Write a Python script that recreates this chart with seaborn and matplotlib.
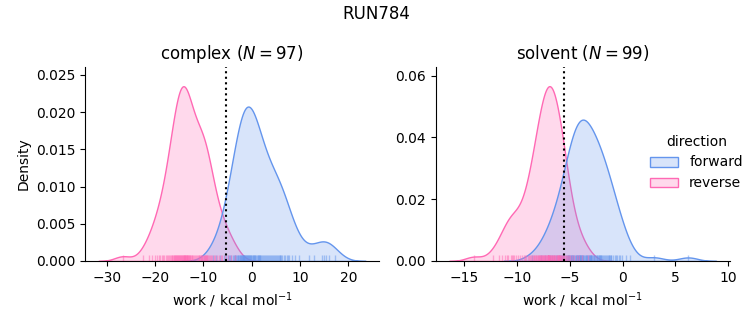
import matplotlib
matplotlib.use("Agg")
import matplotlib.pyplot as plt
import seaborn as sns
import pandas as pd

run_name = "RUN784"
phases = ["complex", "solvent"]
n_samples = {"complex": 97, "solvent": 99}
dg_estimate = {"complex": -5.4, "solvent": -5.5}

complex_forward = [
    -8.1,
    -7.3, -6.6,
    -5.7, -5.3, -5.0, -4.7, -4.4, -4.2,
    -3.9, -3.7, -3.5, -3.4, -3.2, -3.1, -2.9, -2.8, -2.7, -2.5, -2.4, -2.3, -2.2, -2.1,
    -1.95, -1.9, -1.8, -1.7, -1.65, -1.6, -1.5, -1.4, -1.3, -1.2, -1.1, -1.0, -0.9, -0.8,
    -0.7, -0.6, -0.5, -0.45, -0.35, -0.2, -0.1,
    0.1, 0.2, 0.3, 0.4, 0.5, 0.6, 0.7, 0.9, 1.0, 1.2, 1.3, 1.5, 1.6, 1.7, 1.8, 1.9,
    2.1, 2.3, 2.5, 2.7, 2.9, 3.1, 3.3, 3.5, 3.7, 3.9,
    4.2, 4.5, 4.7, 4.9, 5.1, 5.3, 5.5, 5.7, 5.8, 5.95,
    6.1, 6.3, 6.6, 6.9, 7.2, 7.5, 7.8,
    8.4, 9.0, 9.7,
    11.8, 12.9,
    14.6, 15.0, 15.4, 15.9,
    17.2,
]

complex_reverse = [
    -26.7,
    -22.4,
    -21.2, -20.6, -20.1,
    -19.6, -19.2, -18.9, -18.6, -18.3, -18.1,
    -17.8, -17.5, -17.3, -17.1, -16.9, -16.7, -16.5, -16.4, -16.2, -16.1, -16.0,
    -15.9, -15.8, -15.7, -15.6, -15.5, -15.4, -15.3, -15.2, -15.1, -15.0,
    -14.9, -14.8, -14.7, -14.6, -14.5, -14.4, -14.3, -14.2, -14.1, -14.05,
    -13.95, -13.9, -13.8, -13.7, -13.6, -13.5, -13.45, -13.4, -13.3, -13.2, -13.1,
    -13.0, -12.9, -12.8, -12.7, -12.6, -12.4, -12.3, -12.1,
    -11.9, -11.7, -11.5, -11.3, -11.1, -11.0, -10.9, -10.7, -10.5, -10.4, -10.3, -10.2, -10.1,
    -9.95, -9.85, -9.7, -9.6, -9.5, -9.4, -9.3, -9.2, -9.1, -8.9, -8.7, -8.5, -8.2,
    -7.9, -7.5, -7.1, -6.8, -6.4, -6.1,
    -5.6, -4.9, -4.3,
    -3.4,
]

solvent_forward = [
    -8.6,
    -7.7, -7.3, -7.1,
    -6.9, -6.7, -6.5, -6.3, -6.2, -6.05,
    -5.9, -5.8, -5.7, -5.6, -5.5, -5.4, -5.3, -5.2, -5.15, -5.1, -5.05,
    -4.97, -4.9, -4.85, -4.8, -4.75, -4.7, -4.65, -4.6, -4.5, -4.45, -4.4, -4.35, -4.3,
    -4.25, -4.2, -4.15, -4.1, -4.05, -4.02, -4.0,
    -3.95, -3.9, -3.85, -3.8, -3.75, -3.7, -3.65, -3.6, -3.5, -3.45, -3.4, -3.35, -3.3,
    -3.2, -3.15, -3.1, -3.05, -3.02, -3.0,
    -2.95, -2.9, -2.8, -2.75, -2.7, -2.6, -2.5, -2.45, -2.4, -2.3, -2.25, -2.2, -2.15,
    -2.1, -2.05, -2.0,
    -1.95, -1.85, -1.75, -1.7, -1.6, -1.5, -1.4, -1.3, -1.25, -1.2, -1.1, -1.05,
    -0.9, -0.75, -0.6, -0.5, -0.35, -0.2, -0.1,
    0.3, 0.7,
    3.0, 6.2,
]

solvent_reverse = [
    -14.1,
    -12.3,
    -11.7, -11.4, -11.1,
    -10.9, -10.8, -10.6, -10.5, -10.4, -10.3, -10.1,
    -9.9, -9.7, -9.5, -9.3, -9.2, -9.1,
    -8.95, -8.9, -8.8, -8.7, -8.6, -8.5, -8.4, -8.35, -8.3, -8.2, -8.15, -8.1, -8.05, -8.0,
    -7.95, -7.9, -7.85, -7.8, -7.75, -7.7, -7.65, -7.6, -7.55, -7.5, -7.45, -7.4,
    -7.35, -7.3, -7.25, -7.2, -7.15, -7.1, -7.08, -7.05, -7.03, -7.02, -7.01, -7.0,
    -6.98, -6.95, -6.9, -6.85, -6.8, -6.75, -6.7, -6.65, -6.6, -6.55, -6.5, -6.45,
    -6.4, -6.35, -6.3, -6.25, -6.2, -6.15, -6.12, -6.1, -6.05, -6.02, -6.0,
    -5.95, -5.9, -5.85, -5.8, -5.7, -5.65, -5.6, -5.5, -5.45, -5.4, -5.3, -5.2, -5.1, -5.0,
    -4.8, -4.6, -4.3, -4.1,
    -3.8, -3.3,
]

series = {
    ("complex", "forward"): complex_forward,
    ("complex", "reverse"): complex_reverse,
    ("solvent", "forward"): solvent_forward,
    ("solvent", "reverse"): solvent_reverse,
}
rows = []
for (phase, direction), vals in series.items():
    for v in vals:
        rows.append({"phase": phase, "direction": direction, "work": v})
df = pd.DataFrame(rows)

palette = {"forward": "cornflowerblue", "reverse": "hotpink"}

g = sns.displot(
    data=df, x="work", col="phase", hue="direction", kind="kde",
    fill=True, rug=True, common_norm=True, palette=palette,
    hue_order=["forward", "reverse"], col_order=phases,
    rug_kws=dict(alpha=0.5, height=0.03, linewidth=1),
    facet_kws=dict(sharex=False, sharey=False),
    height=3.0, aspect=1.0,
)

for ax, phase in zip(g.axes.flat, phases):
    ax.axvline(dg_estimate[phase], color="black", linestyle=":", linewidth=1.5)
    ax.set_title(f"{phase} ($N={n_samples[phase]}$)", fontsize=12)
    ax.set_xlabel("work / kcal mol$^{-1}$")
g.axes.flat[0].set_ylabel("Density")

fig = g.figure
fig.set_size_inches(7.53, 3.25)
fig.subplots_adjust(left=0.113, right=0.969, bottom=0.197, top=0.794, wspace=0.193)
fig.suptitle(run_name, fontsize=12, y=0.985)
sns.move_legend(g, "center right", bbox_to_anchor=(1.003, 0.5), frameon=False)

fig.savefig("out.png", dpi=100)
